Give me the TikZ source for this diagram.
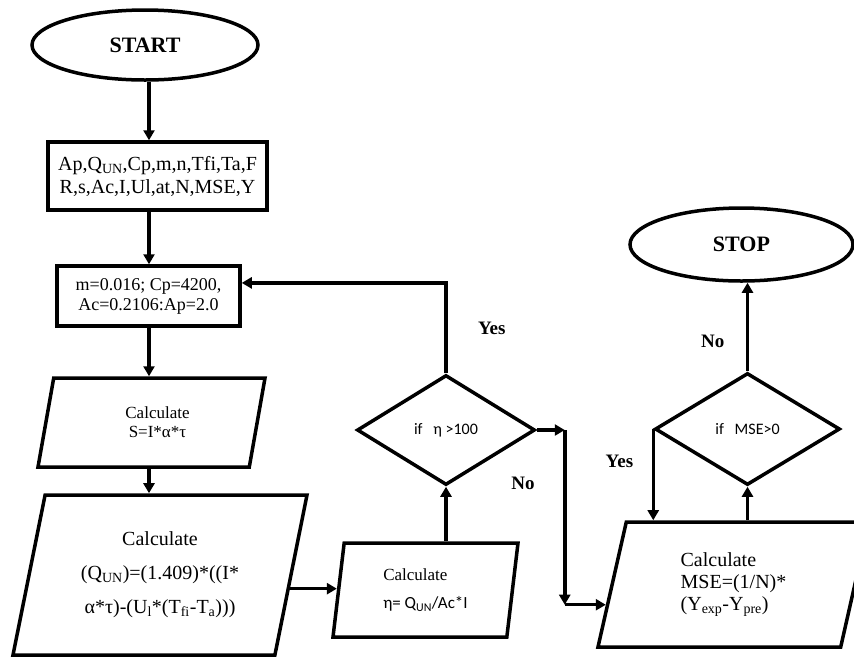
\documentclass[tikz,border=0pt]{standalone}
\usepackage{fontspec}
\setmainfont{Liberation Serif}
\newfontfamily\calfont{Carlito}
\usetikzlibrary{calc,arrows.meta,shapes.geometric}

\tikzset{
	startstop/.style={ellipse,draw,line width=3.5pt,inner sep=0pt,font=\fontsize{22}{26}\selectfont\bfseries},
	inbox/.style={rectangle,draw,line width=3.5pt,inner sep=2pt,align=center},
	calcbox/.style={trapezium,draw,line width=3.5pt,inner sep=2pt,trapezium stretches body=true},
	ifbox/.style={diamond,draw,line width=3.5pt,inner sep=0pt,font=\calfont\fontsize{16}{19}\selectfont},
	lbl/.style={font=\fontsize{19}{22}\selectfont\bfseries},
	flow/.style={line width=3.5pt,->,>={Triangle[length=10pt,width=11pt]}},
}

\begin{document}
\begin{tikzpicture}[x=1pt,y=-1pt]
			\useasboundingbox (0,0) rectangle (854,657);
			\clip (0,0) rectangle (854,657);
			% left column
			\node[startstop,minimum width=226pt,minimum height=70pt] (start) at (145,45) {START};
			\node[inbox,minimum width=219pt,minimum height=68pt,font=\fontsize{20}{23}\selectfont] (input) at (157.5,176) {Ap,Q\textsubscript{UN},Cp,m,n,Tfi,Ta,F\\R,s,Ac,I,Ul,at,N,MSE,Y};
			\node[inbox,minimum width=183pt,minimum height=60pt,font=\fontsize{18}{20}\selectfont] (consts) at (148.5,296) {m=0.016; Cp=4200,\\Ac=0.2106:Ap=2.0};
			\node[calcbox,trapezium left angle=65.8,trapezium right angle=114.2,minimum width=227pt,minimum height=89pt,align=center,font=\fontsize{17}{19}\selectfont] (solar) at (151.5,422.5) {\hspace*{12pt}Calculate\\\hspace*{12pt}S=I*α*τ};
			\node[calcbox,trapezium left angle=70.4,trapezium right angle=109.6,minimum width=294pt,minimum height=160pt,align=center,font=\fontsize{20}{34}\selectfont] (useful) at (160,575) {Calculate\\(Q\textsubscript{UN})=(1.409)*((I*\\α*τ)-(U\textsubscript{l}*(T\textsubscript{fi}-T\textsubscript{a})))};
			% middle column
			\node[calcbox,trapezium left angle=76.5,trapezium right angle=103.5,minimum width=185pt,minimum height=94pt,align=left,font=\fontsize{17}{28}\selectfont] (eff) at (425.5,590) {Calculate\\{\calfont η= Q\textsubscript{UN}/Ac*I}};
			\node[ifbox,minimum width=178pt,minimum height=110pt] (chketa) at (446,430) {if\ \ \ η >100};
			% right column
			\node[calcbox,trapezium left angle=67.4,trapezium right angle=112.6,minimum width=271pt,minimum height=125pt,align=left,font=\fontsize{20}{22}\selectfont] (mse) at (733.5,584.5) {Calculate\\MSE=(1/N)*\\(Y\textsubscript{exp}-Y\textsubscript{pre})};
			\node[ifbox,minimum width=185pt,minimum height=112pt] (chkmse) at (747.5,429) {if\ \ \ MSE>0};
			\node[startstop,minimum width=223pt,minimum height=73pt] (stop) at (741.5,244.5) {STOP};
			% connectors
			\coordinate (spine) at (149,0);
			\draw[flow] (start.south -| spine) -- (input.north -| spine);
			\draw[flow] (input.south -| spine) -- (consts.north -| spine);
			\draw[flow] (consts.south -| spine) -- (solar.north -| spine);
			\draw[flow] (solar.south -| spine) -- (useful.north -| spine);
			\draw[flow] (useful.-6) -- (eff.west |- useful.-6);
			\draw[flow] (chketa |- eff.north) -- (chketa.south);
			\draw[flow] (chketa.north) -- node[lbl,right=27pt] (yes1) {Yes} (chketa.north |- consts.8) -- (consts.8);
			\coordinate (bend1) at ($(chketa.east)+(28,0)$);
			\coordinate (bend2) at (bend1 |- mse.189);
			\draw[flow] (chketa.east) -- (bend1);
			\draw[flow] (bend1) -- (bend2);
			\draw[flow] (bend2) -- (mse.189);
			\node[lbl] (no1) at (523,483) {No};
			\draw[flow] (chkmse |- mse.north) -- (chkmse.south);
			\draw[flow] (chkmse.west) -- node[lbl,pos=0.36,left=15pt] (yes2) {Yes} (chkmse.west |- mse.north);
			\draw[flow] (chkmse.north) -- node[lbl,pos=0.34,left=18pt] (no2) {No} (chkmse.north |- stop.south);
		%	\draw[help lines] (0,0) grid[step=50] (854,657);
\end{tikzpicture}
\end{document}
